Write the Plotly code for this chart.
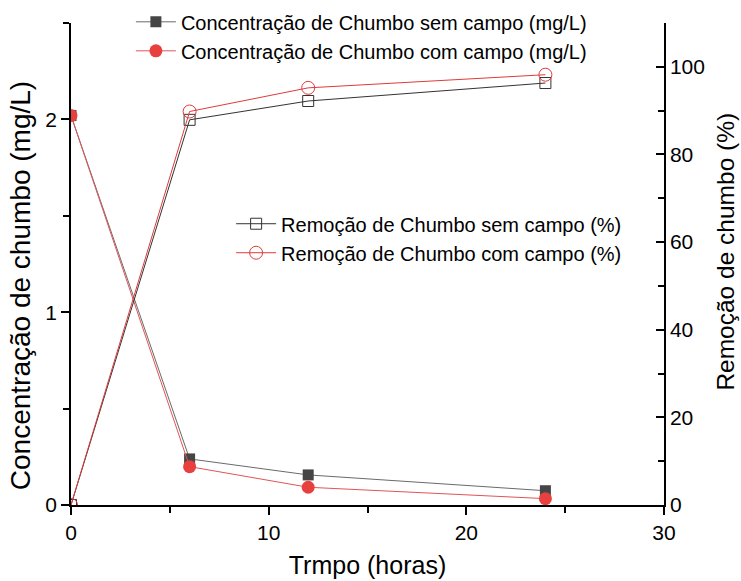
import plotly.graph_objects as go

# Data
tempo = [0, 6, 12, 24]
conc_sem = [2.02, 0.239, 0.156, 0.074]
conc_com = [2.02, 0.199, 0.092, 0.033]
rem_sem = [0, 87.9, 92.2, 96.3]
rem_com = [0, 89.8, 95.2, 98.2]

names = [
    "Concentração de Chumbo sem campo (mg/L)",
    "Concentração de Chumbo com campo (mg/L)",
    "Remoção de Chumbo sem campo (%)",
    "Remoção de Chumbo com campo (%)",
]
x_title = "Trmpo (horas)"
y_title = "Concentração de chumbo (mg/L)"
y2_title = "Remoção de chumbo (%)"

GRAY = "#454545"
RED = "#e8403f"
FONT = "Liberation Sans, Arial, sans-serif"

fig = go.Figure()

fig.add_trace(go.Scatter(
    x=tempo, y=conc_sem, name=names[0], mode="lines+markers",
    line=dict(color="#6a6a6a", width=1),
    marker=dict(symbol="square", size=11, color=GRAY, line=dict(width=0)),
    legend="legend",
))
fig.add_trace(go.Scatter(
    x=tempo, y=conc_com, name=names[1], mode="lines+markers",
    line=dict(color="#e05555", width=1),
    marker=dict(symbol="circle", size=13, color=RED, line=dict(width=0)),
    legend="legend",
))
fig.add_trace(go.Scatter(
    x=tempo, y=rem_sem, name=names[2], mode="lines+markers", yaxis="y2",
    line=dict(color="#333333", width=1),
    marker=dict(symbol="square-open", size=11, color="#333333", line=dict(width=1)),
    legend="legend2",
))
fig.add_trace(go.Scatter(
    x=tempo, y=rem_com, name=names[3], mode="lines+markers", yaxis="y2",
    line=dict(color="#e03a3a", width=1),
    marker=dict(symbol="circle-open", size=13, color="#e03a3a", line=dict(width=1)),
    legend="legend2",
))

axis_common = dict(
    showline=True, linecolor="black", linewidth=1.5,
    showgrid=False, zeroline=False, automargin=False,
    ticks="outside", ticklen=8, tickwidth=1.5, tickcolor="black",
    tickfont=dict(size=21, color="black", family=FONT),
)

fig.update_layout(
    width=741, height=581,
    margin=dict(l=71, r=77, t=23, b=76, autoexpand=False),
    paper_bgcolor="white", plot_bgcolor="white",
    font=dict(family=FONT, color="black"),
    xaxis=dict(
        **axis_common,
        range=[0, 30], tickvals=[0, 10, 20, 30],
        minor=dict(ticks="outside", ticklen=6, tickwidth=1.5, tickcolor="black", dtick=5),
        title=dict(text=x_title, font=dict(size=25, family=FONT), standoff=14),
    ),
    yaxis=dict(
        **axis_common,
        range=[0, 2.5], tickvals=[0, 1, 2],
        minor=dict(ticks="outside", ticklen=6, tickwidth=1.5, tickcolor="black", dtick=0.5),
    ),
    yaxis2=dict(
        **{**axis_common, "ticks": "inside"},
        overlaying="y", side="right", anchor="x",
        range=[0, 110], tickvals=[0, 20, 40, 60, 80, 100],
        minor=dict(ticks="inside", ticklen=6, tickwidth=1.5, tickcolor="black", dtick=10),
    ),
    legend=dict(
        x=0.101, y=0.996, xanchor="left", yanchor="top", yref="container",
        bgcolor="rgba(0,0,0,0)", font=dict(size=20, family=FONT),
        itemwidth=40, tracegroupgap=0,
    ),
    legend2=dict(
        x=0.27, y=0.624, xanchor="left", yanchor="top",
        bgcolor="rgba(0,0,0,0)", font=dict(size=20, family=FONT),
        itemwidth=40, tracegroupgap=0,
    ),
    showlegend=True,
    annotations=[
        dict(text=y_title, xref="paper", yref="paper", x=-0.086, y=0.454,
             xanchor="center", yanchor="middle", textangle=-90, showarrow=False,
             font=dict(size=28, family=FONT, color="black")),
        dict(text=y2_title, xref="paper", yref="paper", x=1.104, y=0.525,
             xanchor="center", yanchor="middle", textangle=-90, showarrow=False,
             font=dict(size=24.5, family=FONT, color="black")),
    ],
)

fig.write_html("out.html")
